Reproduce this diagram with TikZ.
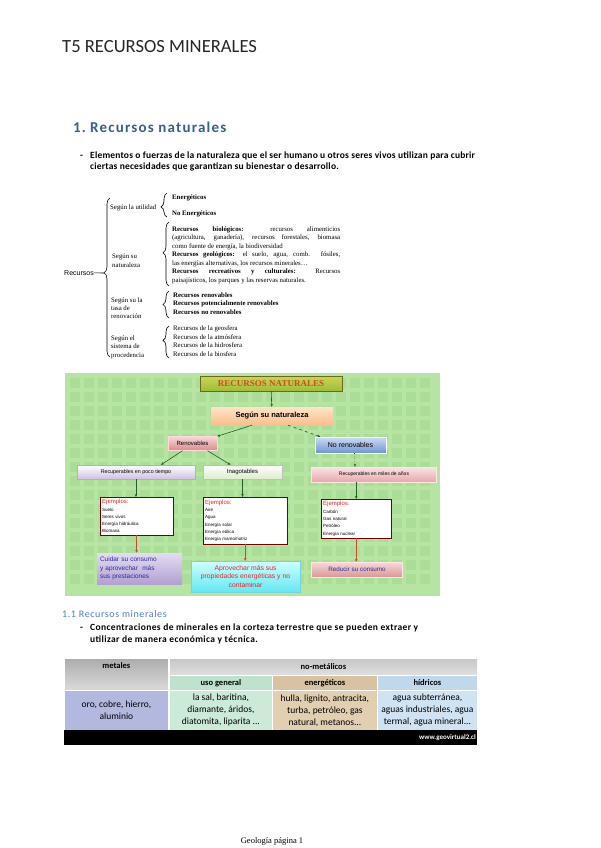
\documentclass[tikz,border=0pt]{standalone}
\usepackage{fontspec}
\setmainfont{Carlito}
\newfontfamily\timesfont{Liberation Serif}
\newfontfamily\arialfont{Liberation Sans}
\usepackage{xcolor}
\usetikzlibrary{arrows.meta, positioning, decorations.pathreplacing}

\definecolor{headblue}{RGB}{54,95,145}
\definecolor{subblue}{RGB}{79,129,189}
\definecolor{mapgreen}{RGB}{182,229,163}
\definecolor{mapgrid}{RGB}{171,221,152}
\definecolor{arrowgreen}{RGB}{35,95,35}
\definecolor{arrowred}{RGB}{205,75,40}
\definecolor{mapred}{RGB}{225,40,40}
\definecolor{mapblue}{RGB}{40,45,150}

\begin{document}
\begin{tikzpicture}[x=1pt, y=-1pt,
    page-text/.style={anchor=base west, inner sep=0pt, align=left},
    brace-line/.style={decorate, decoration={brace, amplitude=6pt, aspect=#1}, line width=0.6pt},
    brace-line/.default=0.5,
    serif-text/.style={page-text, font=\timesfont\fontsize{6.8}{8.4}\selectfont},
    map-box/.style={inner sep=1pt, font=\arialfont\fontsize{6}{7}\selectfont, align=center},
    ej-box/.style={draw=red!45!black, fill=white, inner sep=2pt, align=left, anchor=north west,
        font=\arialfont\fontsize{4.5}{7.3}\selectfont},
    map-arrow/.style={draw=arrowgreen, line width=0.6pt, -{Stealth[length=3pt, width=2.5pt]}},
    red-arrow/.style={draw=arrowred, line width=1pt, -{Stealth[length=3pt, width=3pt]}},
    cell/.style={draw=white, line width=0.8pt, inner sep=0pt, anchor=north west, align=center,
        font=\fontsize{9.5}{12}\selectfont},
    head-cell/.style={cell, font=\fontsize{8.5}{10}\selectfont\bfseries}
]

    \useasboundingbox (0,0) rectangle (600,848);
    \fill[white] (0,0) rectangle (600,848);

    % page title and section 1
    \node[page-text, font=\fontsize{18.6}{20}\selectfont, text=black!85] (titulo) at (62,53) {T5 RECURSOS MINERALES};
    \node[page-text, font=\fontsize{15}{18}\selectfont\bfseries\addfontfeature{LetterSpace=8}, text=headblue] (num1) at (73,132) {1.};
    \node[page-text, font=\fontsize{15}{18}\selectfont\bfseries\addfontfeature{LetterSpace=8}, text=headblue] (sec1) at (90,132) {Recursos naturales};
    \node[page-text, font=\fontsize{9.5}{11.5}\selectfont\bfseries] (guion1) at (80,158) {-};
    \node[page-text, font=\fontsize{9.5}{11.5}\selectfont\bfseries\addfontfeature{LetterSpace=2}] (def1) at (90,169.5)
        {Elementos o fuerzas de la naturaleza que el ser humano u otros seres vivos utilizan para cubrir\\
         ciertas necesidades que garantizan su bienestar o desarrollo.};

    % braces of the classification
    \node[page-text, font=\arialfont\fontsize{7}{8}\selectfont] (rec) at (64,275) {Recursos};
    \draw[brace-line=0.53] (110,357) -- (110,198);
    \coordinate (rec-tip) at (104,273);
    \draw[line width=0.6pt] (rec) -- (rec-tip);

    \node[serif-text] (utilidad) at (110,209) {Según la utilidad};
    \draw[brace-line=0.42] (167,217) -- (167,193);
    \node[serif-text, font=\timesfont\fontsize{6.8}{8.4}\selectfont\bfseries] (energ) at (172,199) {Energéticos};
    \node[serif-text, font=\timesfont\fontsize{6.8}{8.4}\selectfont\bfseries] (noenerg) at (172,215) {No Energéticos};

    \node[serif-text, font=\timesfont\fontsize{6.8}{9}\selectfont] (naturaleza-t) at (112,267) {Según su\\naturaleza};
    \draw[brace-line=0.52] (169,286) -- (169,222);
    \node[page-text] (tipos) at (172,231) {\parbox[t]{168pt}{\timesfont\fontsize{6.8}{8.5}\selectfont
        \textbf{Recursos biológicos:} recursos alimenticios\linebreak
        (agricultura, ganadería), recursos forestales, biomasa\linebreak
        como fuente de energía, la biodiversidad\par
        \textbf{Recursos geológicos:} el suelo, agua, comb. fósiles,\linebreak
        las energías alternativas, los recursos minerales…\par
        \textbf{Recursos recreativos y culturales:} Recursos\linebreak
        paisajísticos, los parques y las reservas naturales.}};

    \node[serif-text] (renovacion-t) at (111,318.8) {Según su la\\tasa de\\renovación};
    \draw[brace-line=0.5] (169,318) -- (169,291);
    \node[serif-text, font=\timesfont\fontsize{6.8}{8.3}\selectfont\bfseries] (renov-list) at (173,314)
        {Recursos renovables\\Recursos potencialmente renovables\\Recursos no renovables};

    \node[serif-text] (procedencia-t) at (111,357) {Según el\\sistema de\\procedencia};
    \draw[brace-line=0.55] (169,358) -- (169,326);
    \node[serif-text, font=\timesfont\fontsize{6.8}{8.5}\selectfont] (proc-list) at (173,356)
        {Recursos de la geosfera\\Recursos de la atmósfera\\Recursos de la hidrosfera\\Recursos de la biosfera};

    % concept map
    \fill[mapgreen] (65,373) rectangle (440,596);
    \foreach \i in {0,...,25}
        \foreach \j in {0,...,14}
            \fill[mapgrid] ({70+14*\i},{378+14*\j}) rectangle ++(10,10);

    \node[map-box, draw=olive!70!black, top color={rgb,255:red,200;green,214;blue,82}, bottom color={rgb,255:red,160;green,188;blue,58},
        minimum width=142pt, minimum height=15pt, text=arrowred, font=\timesfont\bfseries\fontsize{9}{10}\selectfont] (recnat) at (271,383.5) {RECURSOS NATURALES};
    \node[map-box, top color={rgb,255:red,254;green,228;blue,200}, bottom color={rgb,255:red,250;green,190;blue,140},
        minimum width=122pt, minimum height=18pt, font=\arialfont\bfseries\fontsize{7.5}{9}\selectfont] (segun) at (272,416) {Según su naturaleza};
    \node[map-box, draw=red!15, top color={rgb,255:red,246;green,215;blue,215}, bottom color={rgb,255:red,220;green,138;blue,138},
        minimum width=49pt, minimum height=14pt] (renov) at (192.5,443.5) {Renovables};
    \node[map-box, draw=white, top color={rgb,255:red,205;green,220;blue,242}, bottom color={rgb,255:red,110;green,150;blue,205},
        minimum width=71pt, minimum height=16pt, font=\arialfont\fontsize{7}{8}\selectfont] (norenov) at (350.5,445) {No renovables};
    \node[map-box, draw=gray!60, top color=white, bottom color={rgb,255:red,205;green,195;blue,225},
        minimum width=118pt, minimum height=14pt, font=\arialfont\fontsize{5.3}{6}\selectfont] (poco) at (136,472) {Recuperables en poco tiempo};
    \node[map-box, draw=gray!50, top color=white, bottom color={rgb,255:red,222;green,236;blue,202},
        minimum width=79pt, minimum height=14pt] (inagot) at (242.5,472) {Inagotables};
    \node[map-box, draw=red!10, top color={rgb,255:red,250;green,228;blue,228}, bottom color={rgb,255:red,230;green,168;blue,168},
        minimum width=125pt, minimum height=15pt, font=\arialfont\fontsize{5}{6}\selectfont] (miles) at (374,474.5) {Recuperables en miles de años};

    \node[ej-box, text width=69pt, minimum height=38pt] (ej1) at (100,497)
        {{\color{mapred}\fontsize{6}{6.5}\selectfont Ejemplos:}\\Suelo\\Seres vivos\\Energía hidráulica\\Biomasa};
    \node[ej-box, text width=80pt, minimum height=47pt] (ej2) at (203,497)
        {{\color{mapred}\fontsize{6}{6.5}\selectfont Ejemplos:}\\Aire\\Agua\\Energía solar\\Energía eólica\\Energía mareomotriz};
    \node[ej-box, text width=66pt, minimum height=39pt] (ej3) at (321,499)
        {{\color{mapred}\fontsize{6}{6.5}\selectfont Ejemplos:}\\Carbón\\Gas natural\\Petróleo\\Energía nuclear};

    \node[map-box, inner sep=3pt, top color={rgb,255:red,228;green,220;blue,242}, bottom color={rgb,255:red,178;green,160;blue,210},
        text width=79pt, minimum height=31pt, text=mapblue, align=left, font=\arialfont\fontsize{6.5}{8.5}\selectfont] (cuidar) at (139.5,568.5)
        {Cuidar su consumo\\y aprovechar \ más\\sus prestaciones};
    \node[map-box, draw={rgb,255:red,120;green,210;blue,220}, top color={rgb,255:red,205;green,255;blue,255}, bottom color={rgb,255:red,100;green,232;blue,242},
        minimum width=109pt, minimum height=31pt, text=mapred, font=\arialfont\fontsize{6.8}{8.5}\selectfont] (aprov) at (245.5,576.5)
        {Aprovechar más sus\\propiedades energéticas y no\\contaminar};
    \node[map-box, draw=red!10, top color={rgb,255:red,246;green,218;blue,218}, bottom color={rgb,255:red,218;green,150;blue,150},
        minimum width=91pt, minimum height=15pt, text=mapblue, font=\arialfont\fontsize{6.3}{7}\selectfont] (reducir) at (357,569.5) {Reducir su consumo};

    \draw[map-arrow] (recnat) -- (segun);
    \draw[map-arrow] ([xshift=-20pt]segun.south) -- (renov.north east);
    \draw[map-arrow, dashed] ([xshift=16pt]segun.south) -- ([xshift=-30pt]norenov.north);
    \draw[map-arrow] ([xshift=-10pt]renov.south) -- ([xshift=25pt]poco.north);
    \draw[map-arrow] ([xshift=15pt]renov.south) -- ([xshift=-12pt]inagot.north);
    \draw[map-arrow, dotted] ([xshift=4pt]norenov.south) -- ([xshift=-19pt]miles.north);
    \draw[map-arrow] (poco.south) -- (poco.south |- ej1.north);
    \draw[map-arrow] (inagot.south) -- (inagot.south |- ej2.north);
    \draw[map-arrow] (ej3.north |- miles.south) -- (ej3.north);
    \draw[red-arrow] (ej1.south) -- (ej1.south |- cuidar.north);
    \draw[red-arrow] (ej2.south) -- (ej2.south |- aprov.north);
    \draw[red-arrow] (ej3.south) -- (ej3.south |- reducir.north);

    % section 1.1
    \node[page-text, font=\fontsize{10}{12}\selectfont\addfontfeature{LetterSpace=6}, text=subblue] (sec11) at (62,617) {1.1 Recursos minerales};
    \node[page-text, font=\fontsize{9.5}{12.5}\selectfont\bfseries] (guion2) at (80,630) {-};
    \node[page-text, font=\fontsize{9.5}{12.5}\selectfont\bfseries\addfontfeature{LetterSpace=4}] (def2) at (90,642.5)
        {Concentraciones de minerales en la corteza terrestre que se pueden extraer y\\
         utilizar de manera económica y técnica.};

    % table of mineral resources
    \begin{scope}
        \clip (64,658) rectangle (477,745);
        \node[head-cell, minimum width=104pt, minimum height=32pt, text depth=17pt, top color=gray!65, bottom color=gray!28] (metales) at (64,658) {metales};
        \node[head-cell, minimum width=308pt, minimum height=17pt, top color=gray!45, bottom color=gray!25] (nometal) at (169,658) {no-metálicos};
        \node[head-cell, minimum width=103pt, minimum height=15pt, fill={rgb,255:red,190;green,226;blue,206}] (usogen) at (169,675) {uso general};
        \node[head-cell, minimum width=105pt, minimum height=15pt, fill={rgb,255:red,216;green,194;blue,162}] (energet) at (272,675) {energéticos};
        \node[head-cell, minimum width=100pt, minimum height=15pt, fill={rgb,255:red,192;green,216;blue,236}] (hidric) at (377,675) {hídricos};
        \node[cell, minimum width=104pt, minimum height=40pt, fill={rgb,255:red,178;green,184;blue,222}] (metales-d) at (64,690) {oro, cobre, hierro,\\aluminio};
        \node[cell, minimum width=103pt, minimum height=40pt, fill={rgb,255:red,204;green,234;blue,216}] (usogen-d) at (169,690) {la sal, baritina,\\diamante, áridos,\\diatomita, liparita ...};
        \node[cell, minimum width=105pt, minimum height=40pt, fill={rgb,255:red,226;green,206;blue,176}] (energet-d) at (272,690) {hulla, lignito, antracita,\\turba, petróleo, gas\\natural, metanos...};
        \node[cell, minimum width=100pt, minimum height=40pt, fill={rgb,255:red,208;green,227;blue,242}] (hidric-d) at (377,690) {agua subterránea,\\aguas industriales, agua\\termal, agua mineral...};
        \fill[black] (64,730) rectangle (477,745);
    \end{scope}
    \node[anchor=east, inner sep=1pt, text=white, font=\fontsize{7}{8}\selectfont\bfseries] (web) at (477,738) {www.geovirtual2.cl};

    % footer
    \node[anchor=base, inner sep=0pt, font=\timesfont\fontsize{8.5}{10}\selectfont] (pie) at (272,843) {Geología página 1};

\end{tikzpicture}
\end{document}
